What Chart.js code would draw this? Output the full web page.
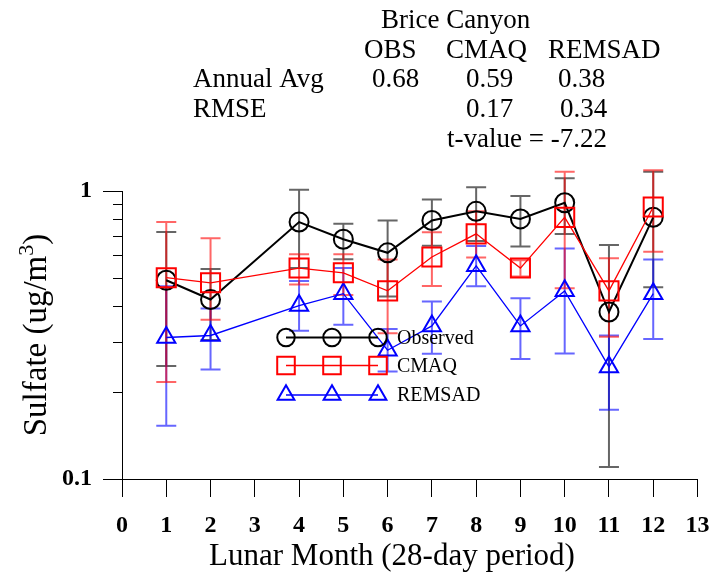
<!DOCTYPE html>
<html><head><meta charset="utf-8">
<script src="https://cdn.jsdelivr.net/npm/chart.js@4.4.1/dist/chart.umd.min.js"></script>
<style>html,body{margin:0;padding:0;background:#fff;}#wrap{width:713px;height:572px;}</style>
</head><body><div id="wrap"><canvas id="c" width="713" height="572"></canvas></div>
<script>
// ---- data ----
const months   = [1, 2, 4, 5, 6, 7, 8, 9, 10, 11, 12];
const obs      = [0.49, 0.42, 0.78, 0.68, 0.61, 0.79, 0.85, 0.80, 0.91, 0.38, 0.81];
const obsHi    = [0.72, 0.536, 1.01, 0.77, 0.79, 0.935, 1.03, 0.96, 1.107, 0.649, 1.166];
const obsLo    = [0.247, 0.304, 0.54, 0.58, 0.43, 0.645, 0.67, 0.641, 0.709, 0.11, 0.463];
const cmaq     = [0.50, 0.48, 0.54, 0.52, 0.45, 0.59, 0.71, 0.54, 0.81, 0.45, 0.88];
const cmaqHi   = [0.78, 0.685, 0.603, 0.603, 0.578, 0.719, 0.85, 0.575, 1.166, 0.584, 1.18];
const cmaqLo   = [0.217, 0.357, 0.474, 0.435, 0.321, 0.468, 0.588, 0.505, 0.46, 0.312, 0.615];
const remsad   = [0.31, 0.315, 0.40, 0.44, 0.28, 0.34, 0.55, 0.34, 0.45, 0.245, 0.44];
const remsadHi = [0.467, 0.391, 0.487, 0.54, 0.332, 0.413, 0.644, 0.424, 0.632, 0.315, 0.578];
const remsadLo = [0.153, 0.24, 0.327, 0.343, 0.236, 0.272, 0.467, 0.261, 0.273, 0.174, 0.306];
const xTicks   = [0, 1, 2, 3, 4, 5, 6, 7, 8, 9, 10, 11, 12, 13];
const yMajor   = [0.1, 1];
const yMinor   = [0.2, 0.3, 0.4, 0.5, 0.6, 0.7, 0.8, 0.9];
const seriesNames = ['Observed', 'CMAQ', 'REMSAD'];
const headerTitle = 'Brice Canyon';
const headerCols  = ['OBS', 'CMAQ', 'REMSAD'];
const annualAvg   = ['0.68', '0.59', '0.38'];
const rmse        = ['', '0.17', '0.34'];
const tValue      = 't-value = -7.22';

const SERIF = '"Liberation Serif", "Times New Roman", serif';
const COLORS = ['#000000', '#ff0000', '#0000ff'];
const STYLES = ['circle', 'rect', 'triangle'];

function pts(vals){ return months.map((m,i)=>({x:m, y:vals[i]})); }

function marker(ctx, style, x, y, r){
  ctx.beginPath();
  if (style === 'circle') { ctx.arc(x, y, r, 0, Math.PI*2); }
  else if (style === 'rect') { const s = Math.SQRT1_2*r; ctx.rect(x-s, y-s, 2*s, 2*s); }
  else { let a = 0; ctx.moveTo(x+Math.sin(a)*r, y-Math.cos(a)*r);
    a += 2*Math.PI/3; ctx.lineTo(x+Math.sin(a)*r, y-Math.cos(a)*r);
    a += 2*Math.PI/3; ctx.lineTo(x+Math.sin(a)*r, y-Math.cos(a)*r); ctx.closePath(); }
  ctx.stroke();
}
const RADII = [9.5, 13.5, 10.5];

const errorBars = {
  id: 'errorBars',
  beforeDatasetsDraw(chart){
    const {ctx, scales:{x, y}} = chart;
    const sets = [[obsLo, obsHi, 'rgba(0,0,0,0.6)'], [remsadLo, remsadHi, 'rgba(0,0,255,0.6)'], [cmaqLo, cmaqHi, 'rgba(255,0,0,0.6)']];
    ctx.save();
    ctx.lineWidth = 2;
    sets.forEach(([lo, hi, col]) => {
      ctx.strokeStyle = col;
      months.forEach((m, i) => {
        const px = x.getPixelForValue(m), pl = y.getPixelForValue(lo[i]), ph = y.getPixelForValue(hi[i]);
        ctx.beginPath();
        ctx.moveTo(px, pl); ctx.lineTo(px, ph);
        ctx.moveTo(px-10, pl); ctx.lineTo(px+10, pl);
        ctx.moveTo(px-10, ph); ctx.lineTo(px+10, ph);
        ctx.stroke();
      });
    });
    ctx.restore();
  }
};

const decor = {
  id: 'decor',
  afterDraw(chart){
    const {ctx, scales:{x, y}} = chart;
    ctx.save();
    // minor y ticks
    ctx.strokeStyle = '#000'; ctx.lineWidth = 1;
    yMinor.forEach(v => {
      const py = Math.round(y.getPixelForValue(v)) + 0.5;
      ctx.beginPath(); ctx.moveTo(y.right - 9, py); ctx.lineTo(y.right, py); ctx.stroke();
    });
    // legend
    const rows = [337.5, 365.5, 395];
    const lx = [286, 332, 378];
    rows.forEach((ry, k) => {
      ctx.strokeStyle = COLORS[k];
      ctx.lineWidth = k === 0 ? 2 : 1.3;
      ctx.beginPath(); ctx.moveTo(lx[0], ry); ctx.lineTo(lx[2], ry); ctx.stroke();
      ctx.lineWidth = 2;
      lx.forEach(px => marker(ctx, STYLES[k], px, ry, RADII[k] * 0.92));
      ctx.fillStyle = '#000';
      ctx.font = '20px ' + SERIF;
      ctx.textAlign = 'left'; ctx.textBaseline = 'middle';
      ctx.fillText(seriesNames[k], 397, ry + 1);
    });
    // header
    ctx.fillStyle = '#000';
    ctx.font = '27px ' + SERIF;
    ctx.textAlign = 'left'; ctx.textBaseline = 'alphabetic';
    ctx.fillText(headerTitle, 381, 28);
    ctx.fillText(headerCols[0], 364, 58);
    ctx.fillText(headerCols[1], 446, 58);
    ctx.fillText(headerCols[2], 548, 58);
    ctx.fillText('Annual Avg', 193, 87);
    ctx.fillText(annualAvg[0], 372, 87);
    ctx.fillText(annualAvg[1], 466, 87);
    ctx.fillText(annualAvg[2], 558, 87);
    ctx.fillText('RMSE', 193, 117);
    ctx.fillText(rmse[1], 466, 117);
    ctx.fillText(rmse[2], 560, 117);
    ctx.fillText(tValue, 447, 147);
    // x title
    ctx.font = '31px ' + SERIF;
    ctx.textAlign = 'center';
    ctx.fillText('Lunar Month (28-day period)', 392, 565);
    // y title with superscript
    ctx.translate(46, 335);
    ctx.rotate(-Math.PI/2);
    const main = 'Sulfate (ug/m', close = ')', sup = '3';
    ctx.font = '33px ' + SERIF;
    const w1 = ctx.measureText(main).width, w3 = ctx.measureText(close).width;
    ctx.font = '22px ' + SERIF;
    const w2 = ctx.measureText(sup).width;
    const total = w1 + w2 + w3;
    let sx = -total/2;
    ctx.textAlign = 'left';
    ctx.font = '33px ' + SERIF;
    ctx.fillText(main, sx, 0); sx += w1;
    ctx.font = '22px ' + SERIF;
    ctx.fillText(sup, sx, -13); sx += w2;
    ctx.font = '33px ' + SERIF;
    ctx.fillText(close, sx, 0);
    ctx.restore();
  }
};

const mk = (k, vals, lw) => ({
  label: seriesNames[k], data: pts(vals),
  borderColor: COLORS[k], backgroundColor: 'transparent',
  borderWidth: lw, pointStyle: STYLES[k], pointRadius: RADII[k],
  pointBorderWidth: 2, pointBorderColor: COLORS[k], pointBackgroundColor: 'transparent',
  showLine: true, tension: 0, clip: false
});

new Chart(document.getElementById('c'), {
  type: 'scatter',
  data: { datasets: [mk(1, cmaq, 1.3), mk(2, remsad, 1.3), mk(0, obs, 2)] },
  options: {
    responsive: false, animation: false, devicePixelRatio: 1,
    layout: { padding: { top: 191, right: 11, left: 0, bottom: 0 } },
    plugins: { legend: { display: false }, tooltip: { enabled: false } },
    scales: {
      x: {
        type: 'linear', min: xTicks[0], max: xTicks[xTicks.length-1],
        afterBuildTicks: s => { s.ticks = xTicks.map(v => ({value: v})); },
        afterFit: s => { s.height = 93; s.paddingLeft = 0; s.paddingRight = 0; },
        ticks: { autoSkip: false, maxRotation: 0, color: '#000', padding: 14,
          font: { family: SERIF, size: 24, weight: 'bold' } },
        grid: { drawOnChartArea: false, drawTicks: true, tickLength: 18, tickColor: '#000', tickWidth: 1 },
        border: { display: true, color: '#000', width: 1 }
      },
      y: {
        type: 'logarithmic', position: 'left', min: yMajor[0], max: yMajor[1],
        afterBuildTicks: s => { s.ticks = yMajor.concat(yMinor).sort((a,b)=>a-b).map(v => ({value: v, major: yMajor.includes(v)})); },
        afterFit: s => { s.width = 122; s.paddingTop = 0; s.paddingBottom = 0; },
        ticks: { autoSkip: false, color: '#000', padding: 11,
          font: { family: SERIF, size: 24, weight: 'bold' },
          callback: v => yMajor.includes(v) ? String(v) : '' },
        grid: { drawOnChartArea: false, drawTicks: true, tickLength: 19, tickWidth: 1,
          tickColor: c => (c.tick && yMajor.includes(c.tick.value)) ? '#000' : 'rgba(0,0,0,0)' },
        border: { display: true, color: '#000', width: 1 }
      }
    }
  },
  plugins: [errorBars, decor]
});
</script></body></html>
